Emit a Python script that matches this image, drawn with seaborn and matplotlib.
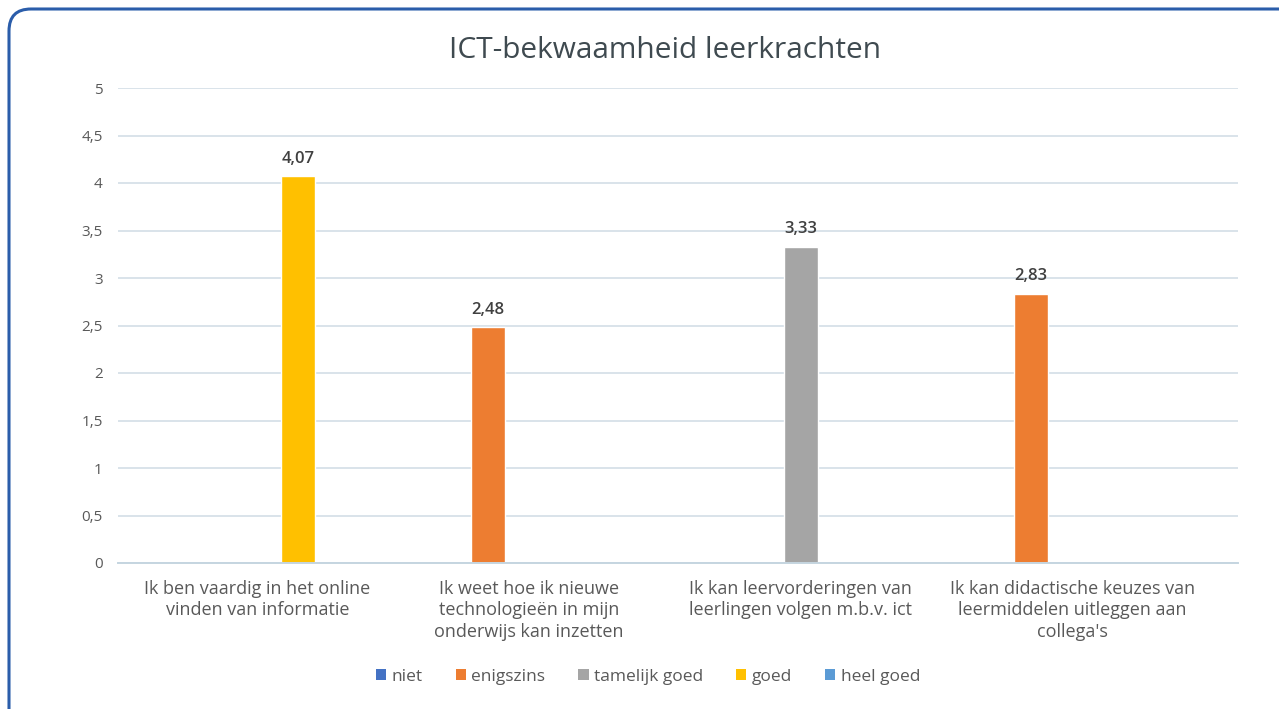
import matplotlib
matplotlib.use("Agg")
import matplotlib.pyplot as plt
import seaborn as sns
import pandas as pd
from matplotlib.patches import FancyBboxPatch, Patch

categories = [
    "Ik ben vaardig in het online\nvinden van informatie",
    "Ik weet hoe ik nieuwe\ntechnologieën in mijn\nonderwijs kan inzetten",
    "Ik kan leervorderingen van\nleerlingen volgen m.b.v. ict",
    "Ik kan didactische keuzes van\nleermiddelen uitleggen aan\ncollega's",
]
levels = ["niet", "enigszins", "tamelijk goed", "goed", "heel goed"]
colors = ["#4472C4", "#ED7D31", "#A5A5A5", "#FFC000", "#5B9BD5"]
# values per level, one per category
niet = [0, 0, 0, 0]
enigszins = [0, 2.48, 0, 2.83]
tamelijk_goed = [0, 0, 3.33, 0]
goed = [4.07, 0, 0, 0]
heel_goed = [0, 0, 0, 0]
y_ticks = [0, 0.5, 1, 1.5, 2, 2.5, 3, 3.5, 4, 4.5, 5]
y_tick_labels = ["0", "0,5", "1", "1,5", "2", "2,5", "3", "3,5", "4", "4,5", "5"]
title = "ICT-bekwaamheid leerkrachten"

series = [niet, enigszins, tamelijk_goed, goed, heel_goed]
rows = []
for lvl, vals in zip(levels, series):
    for cat, v in zip(categories, vals):
        rows.append({"cat": cat, "level": lvl, "value": v})
df = pd.DataFrame(rows)

sns.set_theme(style="white")
plt.rcParams["font.family"] = ["Open Sans", "DejaVu Sans"]

W, H = 1279, 709
fig = plt.figure(figsize=(W / 100, H / 100), dpi=100)
fig.patch.set_facecolor("white")
ax = fig.add_axes([118 / W, (H - 563) / H, (1238 - 118) / W, (563 - 88) / H])

sns.barplot(data=df, x="cat", y="value", hue="level", hue_order=levels,
            order=categories, palette=colors, width=0.756, gap=0.17,
            saturation=1, ax=ax, legend=False)

ax.set_xlim(-0.513, 3.61)
ax.set_ylim(0, 5)
ax.set_yticks(y_ticks)
ax.set_yticklabels(y_tick_labels)
ax.set_xlabel("")
ax.set_ylabel("")
grid_c = "#D3DEE6"
ax.yaxis.grid(True, color=grid_c, linewidth=1.2)
ax.set_axisbelow(True)
for s in ["top", "right", "left"]:
    ax.spines[s].set_visible(False)
ax.spines["bottom"].set_color("#C5D5E0")
ax.spines["bottom"].set_linewidth(1.4)
ax.tick_params(axis="y", length=0, pad=11, labelsize=11, labelcolor="#595959")
ax.tick_params(axis="x", length=0, pad=12, labelsize=13, labelcolor="#595959")
for lab in ax.get_xticklabels():
    lab.set_linespacing(1.25)

for cont in ax.containers:
    for p in cont:
        h = p.get_height()
        if h > 0:
            ax.annotate(f"{h:.2f}".replace(".", ","),
                        (p.get_x() + p.get_width() / 2, h),
                        xytext=(0, 7), textcoords="offset points",
                        ha="center", va="bottom", fontsize=12,
                        fontweight="semibold", color="#404040")

fig.text(665 / W, (H - 50) / H, title, ha="center", va="center",
         fontsize=21.5, color="#3F4A50")

handles = [Patch(facecolor=c, edgecolor="none") for c in colors]
fig.legend(handles, levels, loc="center", bbox_to_anchor=(648 / W, 1 - 677 / H),
           ncol=5, frameon=False, fontsize=12.5, labelcolor="#595959",
           handlelength=0.6, handleheight=0.6, handletextpad=0.3,
           columnspacing=1.9)

border = FancyBboxPatch((9, -40), 1400, (H - 9) + 40,
                        boxstyle="round,pad=0,rounding_size=22",
                        transform=None, facecolor="none",
                        edgecolor="#2B5DAA", linewidth=2.2, clip_on=False)
fig.patches.append(border)

fig.savefig("out.png", dpi=100)
